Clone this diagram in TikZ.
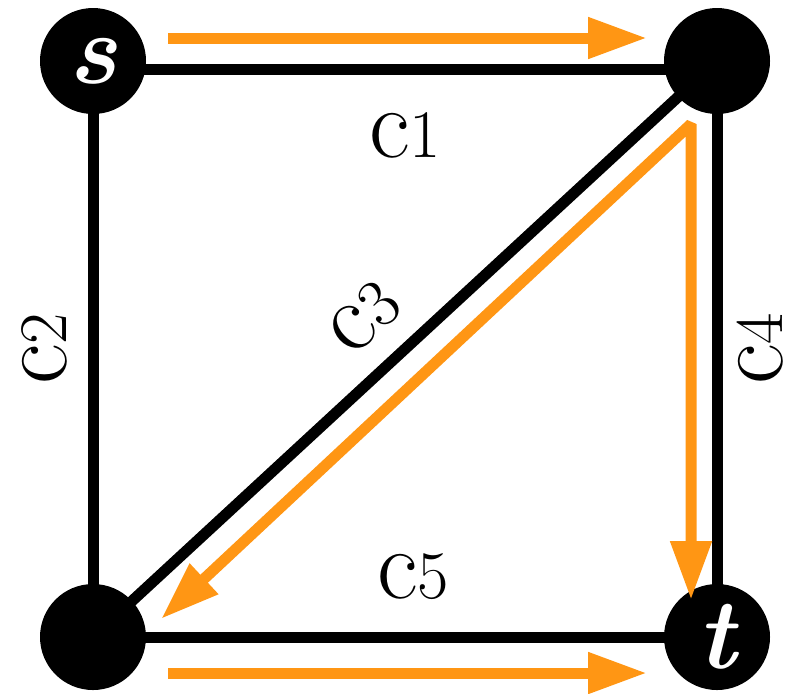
\documentclass[tikz,border=0pt]{standalone}
\usepackage{fontspec}
\usetikzlibrary{arrows.meta,backgrounds}
\definecolor{flowc}{RGB}{255,150,20}
\tikzstyle{vertex} = [circle, fill=black, minimum size=53pt, inner sep=0pt,
    text=white, font=\fontsize{50}{56}\selectfont\bfseries\itshape]
\tikzstyle{edge} = [line width=5.5pt]
\tikzstyle{elabel} = [inner sep=0pt, font=\fontsize{50}{56}\selectfont]
\tikzstyle{flow} = [line width=5.5pt, draw=flowc,
    -{Triangle[length=29.5pt,width=19.5pt]}]
\newcommand{\cname}[1]{c{\fontsize{34}{40}\selectfont #1}}

\begin{document}
\begin{tikzpicture}[x=0.5pt, y=-0.5pt]
\useasboundingbox (0,0) rectangle (795,693);
\node[vertex] (s) at (93,61) {s};
\node[vertex] (a) at (717,61) {};
\node[vertex] (b) at (93,637) {};
\node[vertex] (t) at (717,637) {t};
\begin{scope}[on background layer]
\draw[edge] ([yshift=-4pt]s.center) -- node[elabel, below=19pt] {\cname{1}} ([yshift=-4pt]a.center);
\draw[edge] (b.center) -- node[elabel, sloped, above=10pt] {\cname{2}} (s.center);
\draw[edge] (b.center) -- node[elabel, sloped, above=11pt, pos=0.49] {\cname{3}} (a.center);
\draw[edge] (t.center) -- node[elabel, sloped, below=7pt] {\cname{4}} (a.center);
\draw[edge] (b.center) -- node[elabel, above=16pt, xshift=4pt] {\cname{5}} (t.center);
\end{scope}
% flow of the path s -> a -> b -> t
\coordinate (f1) at (168,38);
\coordinate (f2) at (647,38);
\coordinate (fc) at (691,124);
\coordinate (fd) at (161,619);
\coordinate (ft) at (691,600);
\coordinate (f3) at (168,673);
\coordinate (f4) at (647,673);
\draw[flow] (f1) -- (f2);
\draw[flow, {Triangle[length=29.5pt,width=19.5pt]}-{Triangle[length=29.5pt,width=19.5pt]}, line join=bevel] (fd) -- (fc) -- (ft);
\draw[flow] (f3) -- (f4);
\end{tikzpicture}
\end{document}
